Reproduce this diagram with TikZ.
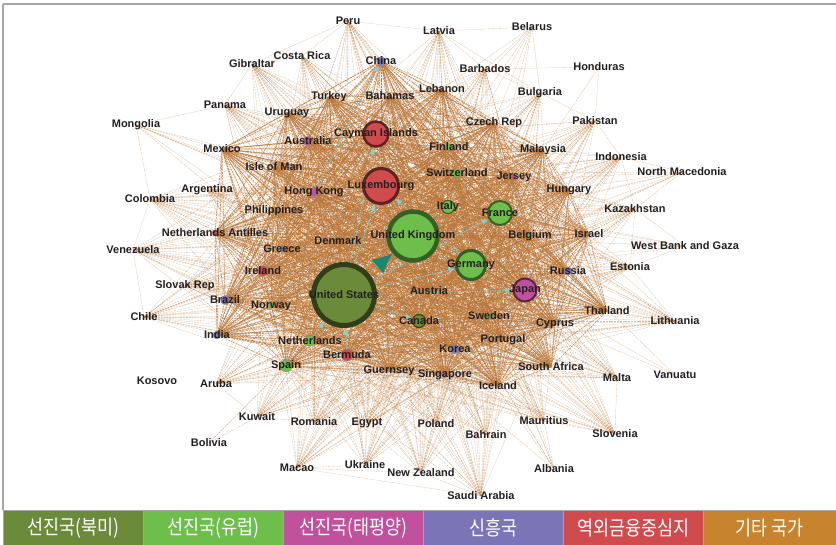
\documentclass[tikz,border=0pt]{standalone}
\usepackage{fontspec}
\usepackage{graphicx}
\setmainfont{Liberation Sans}
\newfontfamily\krfont{Noto Sans CJK KR}
\usetikzlibrary{arrows.meta}
\pgfdeclarelayer{edges}
\pgfdeclarelayer{flows}
\pgfsetlayers{edges,flows,main}
\definecolor{nam}{RGB}{107,138,58}
\definecolor{eur}{RGB}{109,190,75}
\definecolor{pac}{RGB}{192,82,157}
\definecolor{emg}{RGB}{123,117,183}
\definecolor{ofc}{RGB}{207,75,77}
\definecolor{oth}{RGB}{200,131,47}
\definecolor{fanc}{RGB}{184,116,54}
\definecolor{teallt}{RGB}{140,205,200}
\definecolor{tealdk}{RGB}{28,135,112}
\definecolor{ink}{RGB}{35,31,32}
\def\core{us,uk,lux,cay,ger,fra,jpn,ita,can,ned,esp,ber,irl,sui,aus,hkg,kor,bra,ind,chn,rus,fin,swe,sgp,nor,bel,gre,jer,ant,aut,den,gue,por,cyp,phi,iom,bah,tur,leb,cze,mal,hun,isr,saf,ice,uru,mex,tha}
\def\hubs{us,uk,lux,cay,ger,fra,jpn,ita,can,ned,esp,ber,irl,sui,aus,hkg,kor,sgp,bel,den,aut,swe,gue,jer,por,cyp}
\def\rim{peru,lat,crc,gib,brb,bul,pan,pak,idn,arg,col,kaz,ven,est,svk,chl,ltu,mlt,abw,kwt,rou,egy,pol,mus,bhr,svn,mac,ukr,nzl,sau}

\begin{document}
\begin{tikzpicture}[x=1pt,y=-1pt,
  cty/.style={font=\fontsize{11}{12}\selectfont\bfseries, text=ink, inner sep=0pt},
  every label/.style={cty},
  ball/.style={circle, inner sep=0pt, minimum size=#1},
  pip/.style={ball=#1, draw=black!45, line width=0.4pt},
  fan/.style={draw=fanc, line width=0.3pt, draw opacity=0.5, dash pattern=on 2pt off 0.8pt},
  fancore/.style={fan, line width=0.6pt, draw opacity=0.8},
  flow/.style={draw=teallt, line width=0.9pt, dash pattern=on 1.5pt off 1pt, -{Latex[length=7pt,width=6pt]}},
  keybox/.style={anchor=north west, minimum width=140pt, minimum height=35pt, inner sep=0pt,
    draw=black!35, line width=0.6pt, text=white, font=\krfont\fontsize{20}{22}\selectfont}]
\useasboundingbox (0,0) rectangle (836,545);
\draw[black!35, line width=1.2pt] (3,4) -- (836,4);
\draw[black!35, line width=1.2pt] (3,4) -- (3,510);

\node[ball=61, fill=nam, draw=nam!45!black, line width=5pt, label=center:United States] (us) at (344,295) {};
\node[ball=49, fill=eur, draw=eur!50!black, line width=4.5pt, label=center:United Kingdom] (uk) at (413,236) {};
\node[ball=35, fill=ofc, draw=ofc!45!black, line width=3pt, label=center:Luxembourg] (lux) at (381,186) {};
\node[ball=25, fill=ofc, draw=ofc!45!black, line width=2.5pt, label=center:Cayman Islands] (cay) at (376,134) {};
\node[ball=29, fill=eur, draw=eur!50!black, line width=3pt, label=center:Germany] (ger) at (471,265) {};
\node[ball=24, fill=eur, draw=eur!50!black, line width=2pt, label=center:France] (fra) at (500,213) {};
\node[ball=23, fill=pac, draw=pac!45!black, line width=2pt, label=center:Japan] (jpn) at (525,290) {};
\node[ball=13, fill=eur, draw=eur!50!black, line width=1pt, label=center:Italy] (ita) at (448,207) {};
\node[ball=13, fill=nam, draw=nam!50!black, line width=1.2pt, label=center:Canada] (can) at (419,321) {};
\node[pip=11, fill=eur, label=center:Netherlands] (ned) at (310,341) {};
\node[pip=12, fill=eur, label=center:Spain] (esp) at (286,366) {};
\node[pip=12, fill=ofc, label=center:Bermuda] (ber) at (347,355) {};
\node[pip=11, fill=ofc, label=center:Ireland] (irl) at (263,271) {};
\node[pip=9, fill=eur, label=center:Switzerland] (sui) at (457,173) {};
\node[pip=9, fill=pac, label=center:Australia] (aus) at (308,141) {};
\node[pip=9, fill=pac, label=center:Hong Kong] (hkg) at (314,192) {};
\node[pip=9, fill=emg, label=center:Korea] (kor) at (455,349) {};
\node[pip=9, fill=emg, label=center:Brazil] (bra) at (225,300) {};
\node[pip=8, fill=emg, label=center:India] (ind) at (217,335) {};
\node[pip=9, fill=emg, label=center:China] (chn) at (381,61) {};
\node[pip=8, fill=emg, label=center:Russia] (rus) at (568,271) {};
\node[pip=7, fill=eur, label=center:Finland] (fin) at (449,147) {};
\node[pip=6, fill=eur, label=center:Sweden] (swe) at (489,316) {};
\node[pip=5, fill=pac, label=center:Singapore] (sgp) at (445,375) {};
\node[pip=5, fill=eur, label=center:Norway] (nor) at (271,306) {};
\node[pip=5, fill=eur, label=center:Belgium] (bel) at (530,236) {};
\node[pip=5, fill=emg, label=center:Greece] (gre) at (282,249) {};
\node[pip=5, fill=ofc, label=center:Jersey] (jer) at (514,177) {};
\node[pip=6, fill=ofc, label=center:Netherlands Antilles] (ant) at (215,233) {};
\node[pip=3, fill=eur, label=center:Austria] (aut) at (429,291) {};

\node[cty] (den) at (338,241) {Denmark};
\node[cty] (gue) at (389,371) {Guernsey};
\node[cty] (por) at (503,340) {Portugal};
\node[cty] (cyp) at (555,324) {Cyprus};
\node[cty] (phi) at (274,211) {Philippines};
\node[cty] (iom) at (274,167) {Isle of Man};
\node[cty] (bah) at (390,96) {Bahamas};
\node[cty] (tur) at (329,97) {Turkey};
\node[cty] (leb) at (442,89) {Lebanon};
\node[cty] (cze) at (494,123) {Czech Rep};
\node[cty] (mal) at (543,150) {Malaysia};
\node[cty] (hun) at (569,190) {Hungary};
\node[cty] (isr) at (589,234) {Israel};
\node[cty] (saf) at (551,367) {South Africa};
\node[cty] (ice) at (498,386) {Iceland};
\node[cty] (uru) at (287,113) {Uruguay};
\node[cty] (mex) at (222,149) {Mexico};
\node[cty] (tha) at (607,311) {Thailand};

\node[cty] (peru) at (348,21) {Peru};
\node[cty] (lat) at (439,31) {Latvia};
\node[cty] (blr) at (532,27) {Belarus};
\node[cty] (crc) at (302,56) {Costa Rica};
\node[cty] (gib) at (252,64) {Gibraltar};
\node[cty] (brb) at (485,69) {Barbados};
\node[cty] (hon) at (599,67) {Honduras};
\node[cty] (bul) at (540,93) {Bulgaria};
\node[cty] (pan) at (225,105) {Panama};
\node[cty] (mng) at (136,125) {Mongolia};
\node[cty] (pak) at (595,121) {Pakistan};
\node[cty] (idn) at (621,157) {Indonesia};
\node[cty] (mkd) at (682,172) {North Macedonia};
\node[cty] (arg) at (207,190) {Argentina};
\node[cty] (col) at (150,199) {Colombia};
\node[cty] (kaz) at (635,209) {Kazakhstan};
\node[cty] (wbg) at (685,246) {West Bank and Gaza};
\node[cty] (ven) at (133,250) {Venezuela};
\node[cty] (est) at (630,267) {Estonia};
\node[cty] (svk) at (185,286) {Slovak Rep};
\node[cty] (chl) at (144,317) {Chile};
\node[cty] (ltu) at (675,321) {Lithuania};
\node[cty] (mlt) at (617,378) {Malta};
\node[cty] (vut) at (675,375) {Vanuatu};
\node[cty] (kos) at (157,381) {Kosovo};
\node[cty] (abw) at (216,384) {Aruba};
\node[cty] (kwt) at (257,417) {Kuwait};
\node[cty] (rou) at (314,422) {Romania};
\node[cty] (egy) at (367,423) {Egypt};
\node[cty] (pol) at (436,424) {Poland};
\node[cty] (mus) at (544,421) {Mauritius};
\node[cty] (bhr) at (486,435) {Bahrain};
\node[cty] (svn) at (615,434) {Slovenia};
\node[cty] (bol) at (209,443) {Bolivia};
\node[cty] (mac) at (297,468) {Macao};
\node[cty] (ukr) at (365,465) {Ukraine};
\node[cty] (nzl) at (421,473) {New Zealand};
\node[cty] (alb) at (554,469) {Albania};
\node[cty] (sau) at (481,496) {Saudi Arabia};

\begin{pgfonlayer}{edges}
\foreach \a [count=\i] in \core {
  \foreach \b [count=\j] in \core {
    \ifnum\j>\i \draw[fancore] (\a.center) -- (\b.center); \fi
  }
}
\foreach \a in \rim {
  \foreach \b in \hubs { \draw[fan] (\a.center) -- (\b.center); }
}
\foreach \b in {lat,brb,bul,us,uk,lux,ger,fra,cze,cay} \draw[fan] (blr.center) -- (\b.center);
\foreach \b in {pan,mex,col,us,uk,lux,ger,jpn,kor,hkg} \draw[fan] (mng.center) -- (\b.center);
\foreach \b in {idn,kaz,us,uk,lux,ger,fra,ita,sui,aut,ned} \draw[fan] (mkd.center) -- (\b.center);
\foreach \b in {kaz,isr,est,us,uk,ger,fra,lux} \draw[fan] (wbg.center) -- (\b.center);
\foreach \b in {us,uk,lux,ger,ita,mus,aut,sui} \draw[fan] (alb.center) -- (\b.center);
\foreach \b in {brb,pak,mal} \draw[fan] (hon.center) -- (\b.center);
\foreach \b in {esp,ned,kwt} \draw[fan] (bol.center) -- (\b.center);
\foreach \b in {jpn,rus,cyp} \draw[fan] (vut.center) -- (\b.center);
\foreach \a/\b in {peru/lat,peru/crc,peru/gib,peru/chn,lat/brb,lat/bul,lat/leb,brb/bul,gib/pan,gib/crc,
  col/arg,col/ven,ven/chl,chl/svk,abw/kwt,kwt/rou,mac/ukr,mac/nzl,mac/sau,sau/nzl,sau/bhr,sau/pol,
  mus/svn,mlt/svn,est/ltu,tha/ltu,est/kaz,kaz/idn,idn/pak,pak/bul}
  \draw[fan] (\a.center) -- (\b.center);
\end{pgfonlayer}

\begin{pgfonlayer}{flows}
\draw[flow] (us) -- (cay);
\draw[flow] (us) -- (lux);
\draw[flow] (us) -- (fra);
\draw[flow] (us) -- (ger);
\draw[flow] (us) -- (jpn);
\draw[flow] (us) -- (can);
\draw[flow] (ned) -- (us);
\draw[flow] (ber) -- (us);
\draw[flow] (ger) -- (lux);
\draw[flow] (hkg) -- (chn);
\draw[flow, -{Latex[length=20pt,width=18pt,color=tealdk]}] (us) -- (uk);
\end{pgfonlayer}

\node[keybox, fill=nam] (kNam) at (3,510) {\scalebox{0.87}[1]{선진국(북미)}};
\node[keybox, fill=eur] (kEur) at (143,510) {\scalebox{0.87}[1]{선진국(유럽)}};
\node[keybox, fill=pac] (kPac) at (283,510) {\scalebox{0.87}[1]{선진국(태평양)}};
\node[keybox, fill=emg] (kEmg) at (423,510) {\scalebox{0.87}[1]{신흥국}};
\node[keybox, fill=ofc] (kOfc) at (563,510) {\scalebox{0.87}[1]{역외금융중심지}};
\node[keybox, fill=oth, minimum width=133pt] (kOth) at (703,510) {\scalebox{0.87}[1]{기타 국가}};
\end{tikzpicture}
\end{document}
